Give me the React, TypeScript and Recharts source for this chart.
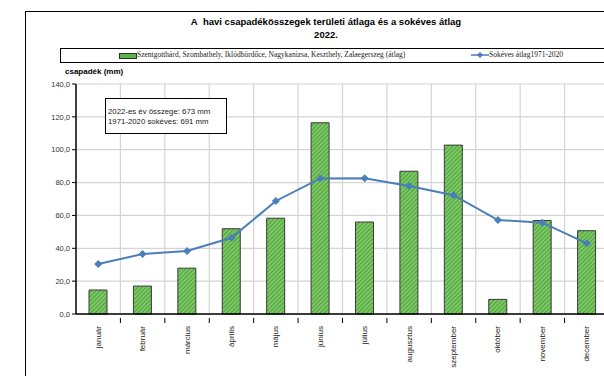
import {
  Bar,
  CartesianGrid,
  ComposedChart,
  Line,
  XAxis,
  YAxis,
} from "recharts";

const months = [
  "január",
  "február",
  "március",
  "április",
  "május",
  "június",
  "július",
  "augusztus",
  "szeptember",
  "október",
  "november",
  "december",
];
// 2022 monthly precipitation, area average (mm)
const precip2022 = [14.6, 17.0, 27.9, 51.9, 58.3, 116.4, 56.0, 86.9, 102.8, 8.9, 56.9, 50.7];
// long-term average 1971-2020 (mm)
const longTerm = [30.4, 36.5, 38.3, 46.4, 68.8, 82.5, 82.6, 77.9, 72.3, 57.2, 55.6, 43.0];
const yTicks = [0, 20, 40, 60, 80, 100, 120, 140];

const data = months.map((m, i) => ({
  name: m,
  area: precip2022[i],
  avg: longTerm[i],
}));

const FONT = "'Liberation Sans', Arial, sans-serif";

const Diamond = (props: any) => {
  const { cx, cy } = props;
  if (cx == null || cy == null) return null;
  const r = 3.5;
  return (
    <path
      d={`M${cx},${cy - r}L${cx + r},${cy}L${cx},${cy + r}L${cx - r},${cy}Z`}
      fill="#4a7ebb"
      stroke="#4a7ebb"
    />
  );
};

const MonthTick = (props: any) => {
  const { x, y, payload, index } = props;
  const half = payload.offset ?? 22.2;
  return (
    <g>
      {index > 0 && (
        <line x1={x - half} y1={y - 4} x2={x - half} y2={y + 1} stroke="#000" />
      )}
      <text
        x={x}
        y={y + 4}
        transform={`rotate(-90, ${x}, ${y + 4})`}
        textAnchor="end"
        dominantBaseline="central"
        fontSize={8}
        fontFamily={FONT}
        fill="#222"
      >
        {payload.value}
      </text>
    </g>
  );
};

export default function App() {
  return (
    <div
      style={{
        position: "fixed",
        left: 0,
        top: 0,
        width: 604,
        height: 376,
        overflow: "hidden",
        background: "#fff",
        fontFamily: FONT,
      }}
    >
      <div
        style={{
          position: "absolute",
          left: 25,
          top: 11,
          width: 579,
          height: 365,
          borderLeft: "1px solid #000",
          borderTop: "1px solid #000",
        }}
      />
      <div
        style={{
          position: "absolute",
          left: 60,
          top: 15,
          width: 532,
          textAlign: "center",
          fontWeight: "bold",
          fontSize: 9.5,
          lineHeight: "13px",
          color: "#000",
        }}
      >
        A&nbsp; havi csapadékösszegek területi átlaga és a sokéves átlag
        <br />
        2022.
      </div>
      <div
        style={{
          position: "absolute",
          left: 60,
          top: 48,
          width: 544,
          height: 13,
          borderLeft: "1px solid #000",
          borderTop: "1px solid #000",
          borderBottom: "1px solid #000",
          fontFamily: "'Liberation Serif', 'Times New Roman', serif",
          fontSize: 7.5,
          color: "#222",
          whiteSpace: "nowrap",
        }}
      >
        <span
          style={{
            position: "absolute",
            left: 58,
            top: 4,
            width: 16,
            height: 4,
            background: "#5cb548",
            border: "1px solid #333",
          }}
        />
        <span style={{ position: "absolute", left: 76, top: 1 }}>
          Szentgotthárd, Szombathely, Iklódbördőce, Nagykanizsa, Keszthely, Zalaegerszeg (átlag)
        </span>
        <svg
          width={18}
          height={8}
          style={{ position: "absolute", left: 410, top: 2 }}
        >
          <line x1={0} y1={4} x2={18} y2={4} stroke="#4a7ebb" strokeWidth={1.5} />
          <path d="M9,1L12,4L9,7L6,4Z" fill="#4a7ebb" />
        </svg>
        <span style={{ position: "absolute", left: 428, top: 1 }}>
          Sokéves átlag1971-2020
        </span>
      </div>
      <div
        style={{
          position: "absolute",
          left: 65,
          top: 67,
          fontSize: 8,
          fontWeight: "bold",
          color: "#000",
        }}
      >
        csapadék (mm)
      </div>
      <div style={{ position: "absolute", left: 0, top: 0 }}>
        <ComposedChart
          width={609}
          height={376}
          data={data}
          margin={{ top: 84, right: 0, bottom: 0, left: 36 }}
        >
          <defs>
            <pattern
              id="hatch"
              patternUnits="userSpaceOnUse"
              width={3}
              height={3}
              patternTransform="rotate(45)"
            >
              <rect width={3} height={3} fill="#7cc966" />
              <line x1={0} y1={0} x2={0} y2={3} stroke="#3d8f2b" strokeWidth={1.4} />
            </pattern>
          </defs>
          <CartesianGrid
            stroke="#d4d4d4"
            strokeWidth={1.2}
            verticalCoordinatesGenerator={({ offset }: any) =>
              months
                .slice(1)
                .map((_, i) => offset.left + ((i + 1) * offset.width) / months.length)
            }
          />
          <XAxis
            dataKey="name"
            height={62}
            interval={0}
            tickLine={false}
            axisLine={{ stroke: "#000", strokeWidth: 1.5 }}
            tick={<MonthTick />}
          />
          <YAxis
            width={40}
            domain={[0, 140]}
            ticks={yTicks}
            interval={0}
            tickSize={4}
            tickLine={{ stroke: "#000" }}
            axisLine={{ stroke: "#000", strokeWidth: 1.5 }}
            tick={{ fontSize: 7.5, fill: "#333", fontFamily: FONT }}
            tickFormatter={(v: number) => v.toFixed(1).replace(".", ",")}
          />
          <Bar
            dataKey="area"
            barSize={18}
            fill="url(#hatch)"
            stroke="#3a3a3a"
            strokeWidth={1}
            isAnimationActive={false}
          />
          <Line
            dataKey="avg"
            stroke="#4a7ebb"
            strokeWidth={2}
            dot={<Diamond />}
            activeDot={false}
            isAnimationActive={false}
          />
        </ComposedChart>
      </div>
      <div
        style={{
          position: "absolute",
          left: 105,
          top: 98,
          width: 122,
          height: 36,
          boxSizing: "border-box",
          border: "1px solid #000",
          background: "#fff",
          fontSize: 7.8,
          lineHeight: "10px",
          color: "#222",
          padding: "8px 0 0 2px",
          whiteSpace: "nowrap",
        }}
      >
        2022-es év összege: 673 mm
        <br />
        1971-2020 sokéves: 691 mm
      </div>
    </div>
  );
}
